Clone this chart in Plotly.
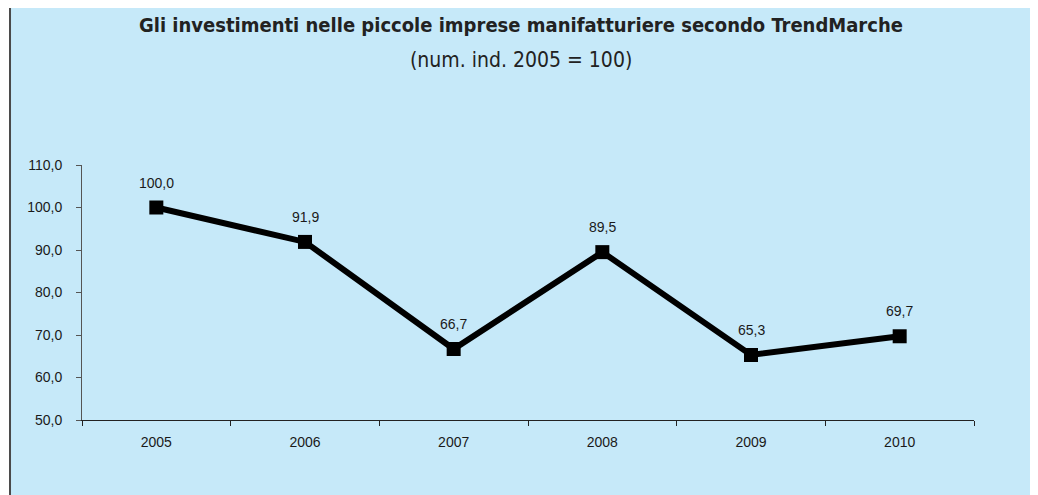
import plotly.graph_objects as go

anni = ['2005', '2006', '2007', '2008', '2009', '2010']
valori = [100.0, 91.9, 66.7, 89.5, 65.3, 69.7]
tick_y = [50, 60, 70, 80, 90, 100, 110]

titolo = "Gli investimenti nelle piccole imprese manifatturiere secondo TrendMarche"
sottotitolo = "(num. ind. 2005 = 100)"

def virgola(v):
    return f"{v:.1f}".replace('.', ',')

fig = go.Figure()

fig.add_trace(
    go.Scatter(
        x=anni,
        y=valori,
        mode='lines+markers',
        line=dict(color='black', width=6),
        marker=dict(symbol='square', size=14, color='black'),
        showlegend=False,
        hoverinfo='skip',
    )
)

# etichette dati (x come indice di categoria)
for i, v in enumerate(valori):
    fig.add_annotation(x=i, y=v, text=virgola(v), showarrow=False, yshift=25,
                       font=dict(family='Liberation Sans, Arial', size=14, color='#1a1a1a'))

titlefont = 'Liberation Sans Narrow, DejaVu Sans Condensed, sans-serif'
fig.add_annotation(xref='paper', yref='paper', x=0.492, y=1.549, xanchor='center', yanchor='middle',
                   text='<b>' + titolo + '</b>',
                   showarrow=False, font=dict(family=titlefont, size=20, color='#222'))
fig.add_annotation(xref='paper', yref='paper', x=0.492, y=1.41, xanchor='center', yanchor='middle',
                   text=sottotitolo,
                   showarrow=False, font=dict(family=titlefont, size=21, color='#222'))

# cornice azzurra
fig.add_shape(type='rect', xref='paper', yref='paper', x0=-0.0807, x1=1.065, y0=-0.4, y1=1.627,
              line=dict(color='#4a4a4a', width=2), fillcolor='#c6e9f9', layer='below')

fig.update_layout(
    width=1030, height=487,
    margin=dict(l=74, r=64, t=157, b=75),
    paper_bgcolor='white',
    plot_bgcolor='rgba(0,0,0,0)',
    font=dict(family='Liberation Sans, Arial', size=14, color='#1a1a1a'),
)

fig.update_xaxes(
    type='category', range=[-0.5, 5.5],
    showline=True, linecolor='#222', linewidth=1,
    ticks='outside', tickson='boundaries', ticklen=5, tickcolor='#222',
    ticklabelstandoff=9,
    showgrid=False, zeroline=False,
)
fig.update_yaxes(
    range=[50, 110], tickvals=tick_y, ticktext=[virgola(t) for t in tick_y],
    showline=True, linecolor='#555', linewidth=1,
    ticks='outside', ticklen=5, tickcolor='#555',
    ticklabelstandoff=11,
    showgrid=False, zeroline=False,
)

fig.write_html("out.html")
